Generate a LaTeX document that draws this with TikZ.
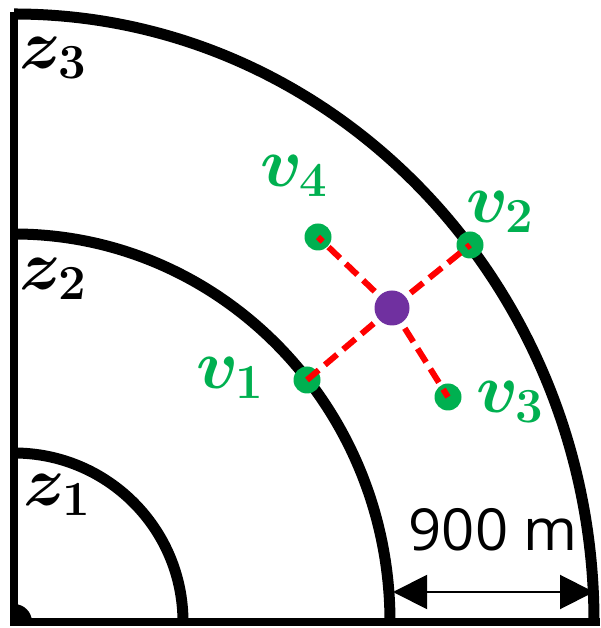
\RequirePackage{fix-cm}
\documentclass[tikz,border=0pt]{standalone}
\usepackage{amsmath}
\usepackage{bm}
\usepackage{fontspec}
\newfontfamily\dimfont{Open Sans}
\usetikzlibrary{arrows.meta,positioning}

\definecolor{vgreen}{HTML}{00B050}
\definecolor{hubpurple}{HTML}{7030A0}
\definecolor{linkred}{HTML}{FF0000}

\begin{document}
\begin{tikzpicture}[x=1pt, y=1pt,
    zone/.style={line width=11pt},
    axis/.style={line width=8pt},
    vdot/.style={circle, fill=vgreen, inner sep=0pt, minimum size=27pt},
    hub/.style={circle, fill=hubpurple, inner sep=0pt, minimum size=35pt},
    link/.style={linkred, line width=6pt, dash pattern=on 16pt off 8pt},
    zlab/.style={inner sep=0pt, font=\fontsize{70}{70}\selectfont},
    vlab/.style={inner sep=0pt, text=vgreen, font=\fontsize{70}{70}\selectfont},
    dim/.style={line width=2pt, {Triangle[length=34pt,width=34pt]}-{Triangle[length=34pt,width=34pt]}}]
    \useasboundingbox (0,0) rectangle (600,628);
    \coordinate (O) at (14,6);
    % zones
    \draw [zone] (O) ++(169pt,0) arc[start angle=0, end angle=90, radius=169pt];
    \draw [zone] (O) ++(376pt,0) arc[start angle=0, end angle=90, x radius=376pt, y radius=388pt];
    \draw [zone] (O) ++(580pt,0) arc[start angle=0, end angle=90, x radius=580pt, y radius=608pt];
    \draw [axis] (14,616) -- (O) -- (600,6);
    \fill (O) -- ++(18pt,0) arc[start angle=0, end angle=90, radius=18pt] -- cycle;
    \node [zlab] (z3) at (53,570) {$\bm{z}_{\bm{3}}$};
    \node [zlab] (z2) at (53,349) {$\bm{z}_{\bm{2}}$};
    \node [zlab] (z1) at (57,133) {$\bm{z}_{\bm{1}}$};
    % vehicles
    \node [vdot] (v1) at (307,248) {};
    \node [vdot] (v2) at (470,383) {};
    \node [vdot] (v3) at (448,231) {};
    \node [vdot] (v4) at (318,391) {};
    \coordinate (h) at (392,320);
    \draw [link] (h) -- (v1.center);
    \draw [link] (h) -- (v2.center);
    \draw [link] (h) -- (v3.center);
    \draw [link] (h) -- (v4.center);
    \node [hub] (hub) at (h) {};
    \node [vlab] (l1) at (230,250) {$\bm{v}_{\bm{1}}$};
    \node [vlab] (l2) at (500,416) {$\bm{v}_{\bm{2}}$};
    \node [vlab] (l3) at (510,226) {$\bm{v}_{\bm{3}}$};
    \node [vlab] (l4) at (294,452) {$\bm{v}_{\bm{4}}$};
    % width of the outer zone
    \coordinate (m) at (393,36);
    \coordinate (o) at (594,36);
    \draw [dim] (m) -- (o);
    \node [font=\dimfont\fontsize{58}{58}\selectfont, inner sep=0pt] (w) at (493,98) {900 m};
\end{tikzpicture}
\end{document}
